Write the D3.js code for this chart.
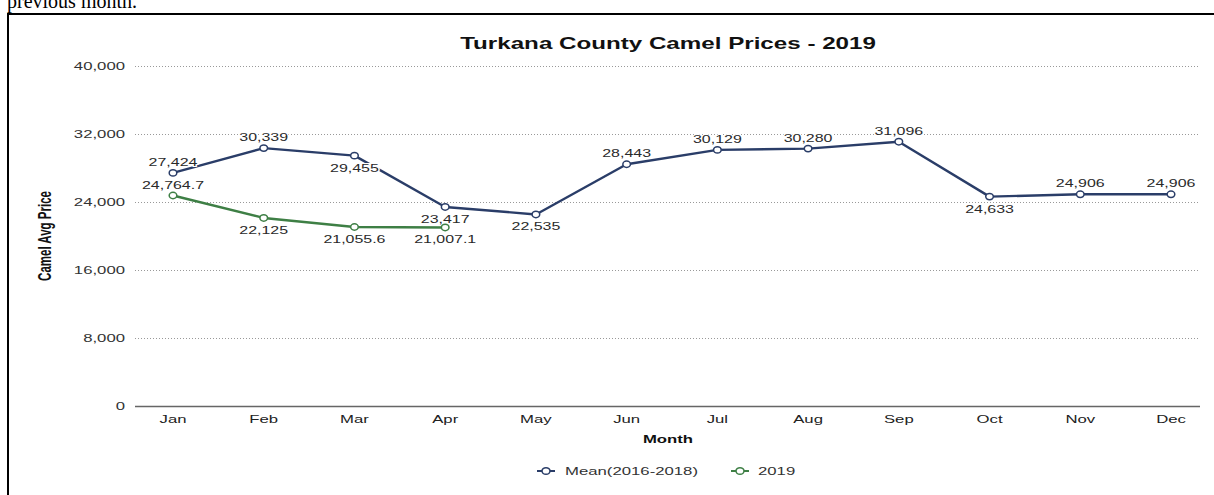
<!DOCTYPE html>
<html>
<head>
<meta charset="utf-8">
<script src="https://cdn.jsdelivr.net/npm/d3@7"></script>
<style>
  html, body { margin: 0; padding: 0; background: #fff; }
  svg { display: block; }
</style>
</head>
<body>
<svg id="chart" width="1214" height="495"></svg>
<script>
// ---- data ----
const months = ["Jan", "Feb", "Mar", "Apr", "May", "Jun", "Jul", "Aug", "Sep", "Oct", "Nov", "Dec"];
const meanPrices = [27424, 30339, 29455, 23417, 22535, 28443, 30129, 30280, 31096, 24633, 24906, 24906];
const prices2019 = [24764.7, 22125, 21055.6, 21007.1];
const yTicks = [0, 8000, 16000, 24000, 32000, 40000];
const seriesNames = ["Mean(2016-2018)", "2019"];
const chartTitle = "Turkana County Camel Prices - 2019";

// months whose value label sits under the marker
const meanLabelsBelow = ["Mar", "Apr", "May", "Oct"];
const labels2019Below = ["Feb", "Mar", "Apr"];

// ---- layout ----
const SX = 1.55;                 // horizontal text stretch
const gridLeft = 135, gridRight = 1200;
const colorMean = "#2a3d68";
const color2019 = "#3e7f45";
const font = "'Liberation Sans', Arial, sans-serif";

const svg = d3.select("#chart");

const x = d3.scalePoint().domain(months).range([173, 1171]);
const y = d3.scaleLinear().domain([0, 40000]).range([406, 66]);

function stretchedText(g, str, px, py, opts = {}) {
  const rot = opts.rotate ? ` rotate(${opts.rotate})` : "";
  return g.append("text")
    .attr("transform", `translate(${px},${py}) scale(${SX},1)${rot}`)
    .attr("text-anchor", opts.anchor || "middle")
    .attr("font-family", font)
    .attr("font-size", opts.size || 11)
    .attr("font-weight", opts.weight || "normal")
    .attr("fill", opts.fill || "#333")
    .text(str);
}

// surrounding document bits
svg.append("text")
  .attr("x", 7).attr("y", 8)
  .attr("font-family", "'Liberation Serif', 'Times New Roman', serif")
  .attr("font-size", 20)
  .attr("fill", "#000")
  .text("previous month.");
svg.append("line").attr("x1", 7).attr("x2", 1214).attr("y1", 14).attr("y2", 14)
  .attr("stroke", "#000").attr("stroke-width", 2);
svg.append("line").attr("x1", 8).attr("x2", 8).attr("y1", 13).attr("y2", 495)
  .attr("stroke", "#000").attr("stroke-width", 2);

// title
stretchedText(svg, chartTitle, 668, 49, { size: 15.6, weight: "bold", fill: "#111" });

// grid + y axis labels
const grid = svg.append("g");
yTicks.forEach(t => {
  const gy = Math.round(y(t)) + 0.5;
  grid.append("line")
    .attr("x1", gridLeft).attr("x2", gridRight)
    .attr("y1", gy).attr("y2", gy)
    .attr("stroke", t === 0 ? "#666" : "#999")
    .attr("stroke-width", t === 0 ? 1.3 : 1)
    .attr("stroke-dasharray", t === 0 ? null : "1,2");
  stretchedText(grid, d3.format(",")(t), 125, y(t) + 4, { anchor: "end", size: 10.8, fill: "#333" });
});

// x axis labels
months.forEach(m => {
  stretchedText(svg, m, x(m), 423, { size: 10.8, fill: "#222" });
});
stretchedText(svg, "Month", 668, 443, { size: 10.8, weight: "bold", fill: "#111" });

// y axis title
stretchedText(svg, "Camel Avg Price", 51, 236, { size: 11.5, weight: "bold", fill: "#111", rotate: -90 });

// ---- series ----
const meanData = months.map((m, i) => ({ m, v: meanPrices[i] }));
const data2019 = prices2019.map((v, i) => ({ m: months[i], v }));

const line = d3.line().x(d => x(d.m)).y(d => y(d.v));

function drawSeries(data, color, below, fmt) {
  const g = svg.append("g");
  g.append("path").datum(data)
    .attr("d", line)
    .attr("fill", "none")
    .attr("stroke", color)
    .attr("stroke-width", 2.4)
    .attr("stroke-linejoin", "round");
  g.selectAll("ellipse").data(data).join("ellipse")
    .attr("cx", d => x(d.m)).attr("cy", d => y(d.v))
    .attr("rx", 3.8).attr("ry", 3.2)
    .attr("fill", "#fff")
    .attr("stroke", color)
    .attr("stroke-width", 1.5);
  data.forEach(d => {
    const isBelow = below.includes(d.m);
    stretchedText(g, fmt(d.v), x(d.m), y(d.v) + (isBelow ? 16 : -7), { size: 10.3, fill: "#2a2a2a" })
      .attr("stroke", "#fff").attr("stroke-width", 2)
      .attr("paint-order", "stroke");
  });
}

drawSeries(meanData, colorMean, meanLabelsBelow, d3.format(","));
drawSeries(data2019, color2019, labels2019Below, v => d3.format(",")(v));

// ---- legend ----
const legend = svg.append("g");
const legendItems = [
  { name: seriesNames[0], color: colorMean, mx: 546, tx: 565 },
  { name: seriesNames[1], color: color2019, mx: 740, tx: 758 }
];
legendItems.forEach(it => {
  legend.append("line")
    .attr("x1", it.mx - 9).attr("x2", it.mx + 9)
    .attr("y1", 471).attr("y2", 471)
    .attr("stroke", it.color).attr("stroke-width", 2);
  legend.append("ellipse")
    .attr("cx", it.mx).attr("cy", 471)
    .attr("rx", 4).attr("ry", 3.3)
    .attr("fill", "#fff").attr("stroke", it.color).attr("stroke-width", 1.5);
  stretchedText(legend, it.name, it.tx, 475, { anchor: "start", size: 10.8, fill: "#333" });
});
</script>
</body>
</html>
